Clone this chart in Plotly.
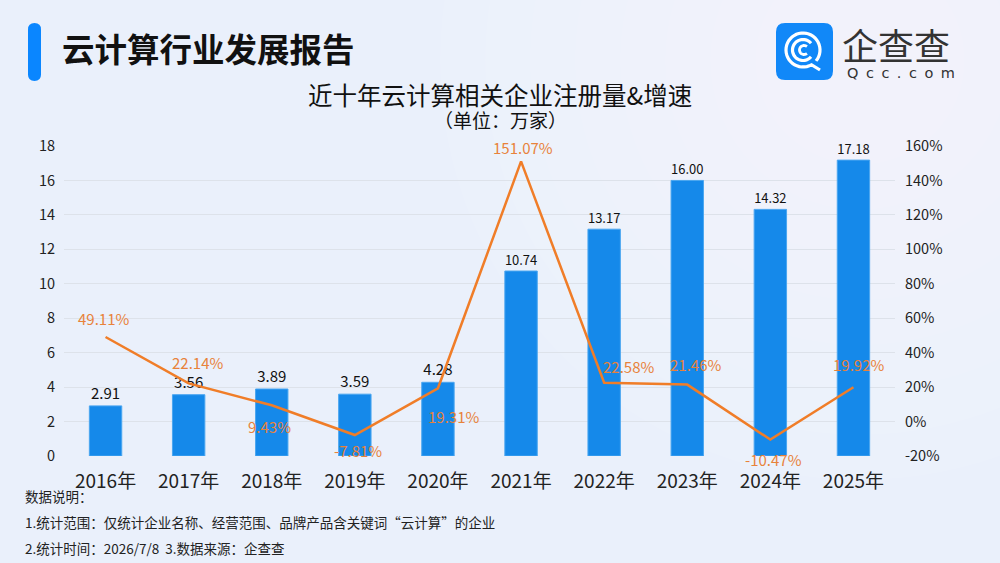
import math
import plotly.graph_objects as go

years = ["2016年", "2017年", "2018年", "2019年", "2020年", "2021年", "2022年", "2023年", "2024年", "2025年"]
registrations = [2.91, 3.56, 3.89, 3.59, 4.28, 10.74, 13.17, 16.00, 14.32, 17.18]
growth = [49.11, 22.14, 9.43, -7.81, 19.31, 151.07, 22.58, 21.46, -10.47, 19.92]

left_ticks = [0, 2, 4, 6, 8, 10, 12, 14, 16, 18]
right_ticks = [-20, 0, 20, 40, 60, 80, 100, 120, 140, 160]

# label offsets (pixels) for growth labels: (xshift, yshift)
label_offsets = [(-2, 18), (9, 21), (-2, -21), (3, -15), (16, -28),
                 (2, 14), (24, 16), (8, 20), (3, -20), (5, 23)]

FONT = "Noto Sans CJK SC"
W, H = 1000, 563
ML, MR, MT, MB = 64, 105, 146, 107
PW, PH = W - ML - MR, H - MT - MB


def px(x):
    return (x - ML) / PW


def py(y):
    return (H - MB - y) / PH


fig = go.Figure()
fig.add_trace(go.Bar(
    x=years, y=registrations,
    marker=dict(color="#1589ea", line=dict(color="#4aa6f0", width=1)),
    text=[f"{v:.2f}" for v in registrations],
    textposition="outside",
    textfont=dict(family=FONT, size=15, color="#111"),
    cliponaxis=False,
    yaxis="y",
    hoverinfo="skip",
))
fig.add_trace(go.Scatter(
    x=years, y=growth,
    mode="lines",
    line=dict(color="#f07d28", width=2.5),
    yaxis="y2",
    cliponaxis=False,
    hoverinfo="skip",
))

annotations = []
for yr, g, (dx, dy) in zip(years, growth, label_offsets):
    annotations.append(dict(
        x=yr, y=g, xref="x", yref="y2", text=f"{g:.2f}%", showarrow=False,
        xshift=dx, yshift=dy, borderpad=0,
        font=dict(family=FONT, size=15, color="#e8823a"),
    ))

# header texts
annotations += [
    dict(x=px(60), y=py(48), xref="paper", yref="paper", xanchor="left", yanchor="middle",
         text="<b>云计算行业发展报告</b>", showarrow=False,
         font=dict(family=FONT, size=32.5, color="#111")),
    dict(x=px(500), y=py(94), xref="paper", yref="paper", xanchor="center", yanchor="middle",
         text="近十年云计算相关企业注册量&增速", showarrow=False, borderpad=0,
         font=dict(family=FONT, size=24.5, color="#111")),
    dict(x=px(500), y=py(120), xref="paper", yref="paper", xanchor="center", yanchor="middle",
         text="（单位：万家）", showarrow=False, borderpad=0,
         font=dict(family=FONT, size=19, color="#111")),
    dict(x=px(841), y=py(44), xref="paper", yref="paper", xanchor="left", yanchor="middle",
         text="企查查", showarrow=False, borderpad=0,
         font=dict(family=FONT, size=36, color="#333")),
    dict(x=px(846), y=py(73), xref="paper", yref="paper", xanchor="left", yanchor="middle",
         text="\u00a0\u2009".join("Qcc.com"), showarrow=False, borderpad=0,
         font=dict(family="DejaVu Sans", size=14.5, color="#333")),
]

# footer
footer = ["数据说明：",
          "1.统计范围：仅统计企业名称、经营范围、品牌产品含关键词“云计算”的企业",
          "2.统计时间：2026/7/8\u00a0\u00a03.数据来源：企查查"]
for txt, yy in zip(footer, [496, 522, 548]):
    annotations.append(dict(
        x=px(24), y=py(yy), xref="paper", yref="paper", xanchor="left", yanchor="middle",
        text=txt, showarrow=False, borderpad=0,
        font=dict(family=FONT, size=13.5, color="#222")))


def rounded_rect(x0, y0, x1, y1, r):
    X0, X1 = px(x0), px(x1)
    Y0, Y1 = py(y0), py(y1)
    rx, ry = r / PW, r / PH
    return (f"M{X0+rx},{Y0} L{X1-rx},{Y0} Q{X1},{Y0} {X1},{Y0-ry} "
            f"L{X1},{Y1+ry} Q{X1},{Y1} {X1-rx},{Y1} L{X0+rx},{Y1} "
            f"Q{X0},{Y1} {X0},{Y1+ry} L{X0},{Y0-ry} Q{X0},{Y0} {X0+rx},{Y0} Z")


def arc(cx, cy, r, a0, a1, n=40, extra=None):
    pts = []
    for k in range(n + 1):
        a = math.radians(a0 + (a1 - a0) * k / n)
        pts.append((cx + r * math.cos(a), cy - r * math.sin(a)))
    if extra:
        pts += extra
    return "M" + " L".join(f"{px(x)},{py(y)}" for x, y in pts)


shapes = []
# subtle light background glow (layered, very low opacity for smooth falloff)
for k in range(8):
    r = 420 - k * 45
    shapes.append(dict(type="circle", xref="paper", yref="paper",
                       x0=px(860 - r), x1=px(860 + r), y0=py(60 + r), y1=py(60 - r),
                       fillcolor="white", opacity=0.07, line=dict(width=0), layer="below"))

shapes += [
    dict(type="path", xref="paper", yref="paper", path=rounded_rect(28, 23, 41, 81, 6.5),
         fillcolor="#0a86ff", line=dict(width=0), layer="above"),
    dict(type="path", xref="paper", yref="paper", path=rounded_rect(776, 23, 833, 80, 9),
         fillcolor="#1188f8", line=dict(width=0), layer="above"),
    dict(type="path", xref="paper", yref="paper",
         path=arc(803, 50, 17, -40, 300, extra=[(820, 70)]),
         line=dict(color="white", width=3.2), layer="above"),
    dict(type="path", xref="paper", yref="paper", path=arc(803, 50, 10.5, 40, 320),
         line=dict(color="white", width=3.2), layer="above"),
    dict(type="path", xref="paper", yref="paper", path=arc(804, 50, 4.5, 50, 310),
         line=dict(color="white", width=2.8), layer="above"),
]

fig.update_layout(
    width=W, height=H,
    margin=dict(l=ML, r=MR, t=MT, b=MB, pad=0),
    paper_bgcolor="#eaf0fb",
    plot_bgcolor="rgba(0,0,0,0)",
    showlegend=False,
    bargap=0.61,
    font=dict(family=FONT, color="#222"),
    xaxis=dict(type="category", showgrid=False, showline=False, zeroline=False,
               ticks="", ticklabelstandoff=12,
               tickfont=dict(family=FONT, size=19, color="#222")),
    yaxis=dict(range=[0, 18], tickvals=left_ticks, showgrid=True, gridcolor="#dde2ea",
               gridwidth=1, zeroline=False, showline=False, ticks="", ticklabelstandoff=8,
               tickfont=dict(family=FONT, size=14.5, color="#222")),
    yaxis2=dict(range=[-20, 160], tickvals=right_ticks, ticktext=[f"{v}%" for v in right_ticks],
                overlaying="y", side="right", showgrid=False, zeroline=False, showline=False,
                ticks="", ticklabelstandoff=9,
                tickfont=dict(family=FONT, size=14.5, color="#222")),
    annotations=annotations,
    shapes=shapes,
)

fig.write_html("out.html")
